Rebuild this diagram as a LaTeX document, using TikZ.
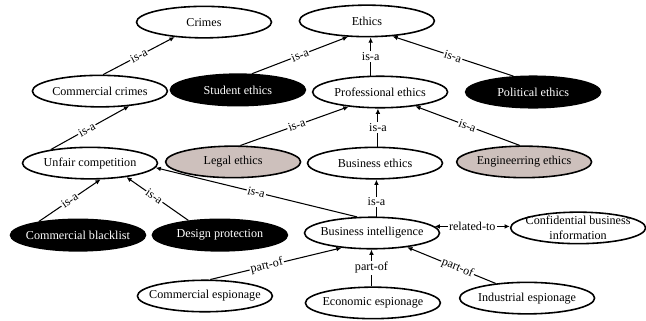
\documentclass[tikz,border=0pt]{standalone}
\usepackage{fontspec}
\setmainfont{Liberation Serif}
\usepackage{tikz}
\usetikzlibrary{arrows.meta, shapes.geometric, calc}
\definecolor{lawgrey}{RGB}{205,192,188}

\begin{document}
\begin{tikzpicture}[
        font=\fontsize{11.5}{14}\selectfont,
        concept/.style={ellipse, draw, line width=1.5pt, minimum width=4.5cm, minimum height=1.05cm, inner xsep=-2cm, inner ysep=-0.6cm, align=center},
        darkconcept/.style={concept, fill=black, text=white},
        greyconcept/.style={concept, fill=lawgrey},
        rel/.style={-{Latex[length=5pt,width=4.5pt]}, line width=1pt},
        relboth/.style={{Latex[length=5pt,width=4.5pt]}-{Latex[length=5pt,width=4.5pt]}, line width=1pt},
        lbl/.style={fill=white, inner sep=1pt, sloped},
        vlbl/.style={fill=white, inner sep=1pt}
    ]
        \useasboundingbox (0,0) rectangle (21.533,10.667);

        % Top row
        \node[concept] (crimes) at (6.80,9.93) {Crimes};
        \node[concept] (ethics) at (12.23,9.97) {Ethics};

        % Second row
        \node[concept] (ccrimes) at (3.33,7.63) {Commercial crimes};
        \node[darkconcept] (student) at (7.93,7.67) {Student ethics};
        \node[concept] (prof) at (12.67,7.60) {Professional ethics};
        \node[darkconcept] (political) at (17.77,7.60) {Political ethics};

        % Third row
        \node[concept] (unfair) at (3.00,5.23) {Unfair competition};
        \node[greyconcept] (legal) at (7.77,5.27) {Legal ethics};
        \node[concept] (business) at (12.50,5.23) {Business ethics};
        \node[greyconcept] (engineering) at (17.47,5.27) {Engineerring ethics};

        % Fourth row
        \node[darkconcept] (blacklist) at (2.60,2.83) {Commercial blacklist};
        \node[darkconcept] (design) at (7.33,2.83) {Design protection};
        \node[concept] (bi) at (12.40,2.90) {Business intelligence};
        \node[concept] (confidential) at (19.27,3.07) {Confidential business\\information};

        % Bottom row
        \node[concept] (cesp) at (6.83,0.80) {Commercial espionage};
        \node[concept] (eesp) at (12.43,0.57) {Economic espionage};
        \node[concept] (iesp) at (17.57,0.73) {Industrial espionage};

        % is-a links
        \draw[rel] (ccrimes.79) -- node[lbl] {is-a} (crimes.207);
        \draw[rel] (student.49) -- node[lbl] {is-a} (ethics.220);
        \draw[rel] (prof.120) -- node[vlbl] {is-a} (prof.120 |- ethics.south);
        \draw[rel] (political.141) -- node[lbl] {is-a} (ethics.329);
        \draw[rel] (unfair.161) -- node[lbl, pos=0.46] {is-a} (ccrimes.333);
        \draw[rel] (legal.66) -- node[lbl, pos=0.52] {is-a} (prof.205);
        \draw[rel] (business.80) -- node[vlbl] {is-a} (business.80 |- prof.south);
        \draw[rel] (engineering.105) -- node[lbl] {is-a} (prof.338);
        \draw[rel] (blacklist.161) -- node[lbl] {is-a} (unfair.303);
        \draw[rel] (design.155) -- node[lbl, pos=0.55] {is-a} (unfair.339);
        \draw[rel] (bi.133) -- node[lbl] {is-a} (unfair.356);
        \draw[rel] (bi.75) -- node[vlbl, pos=0.4] {is-a} (bi.75 |- business.south);

        % related-to link
        \draw[relboth] (bi.6) -- node[vlbl] {related-to} (bi.6 -| confidential.west);

        % part-of links
        \draw[rel] (cesp.72) -- node[lbl, pos=0.43] {part-of} (bi.206);
        \draw[rel] (eesp.95) -- node[vlbl] {part-of} (eesp.95 |- bi.south);
        \draw[rel] (iesp.155) -- node[lbl, pos=0.43] {part-of} (bi.338);

\end{tikzpicture}
\end{document}
